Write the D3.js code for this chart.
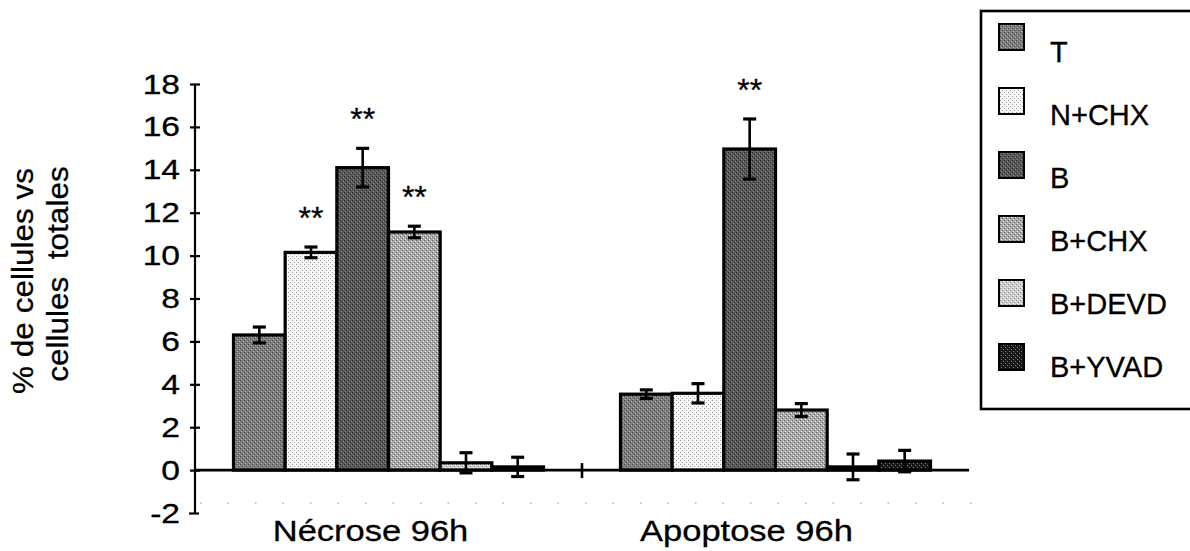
<!DOCTYPE html>
<html>
<head>
<meta charset="utf-8">
<script src="https://cdn.jsdelivr.net/npm/d3@7"></script>
<style>
  html, body { margin: 0; padding: 0; background: #fff; }
  svg { display: block; font-family: "Liberation Sans", Arial, sans-serif; }
  svg text { stroke: #000; stroke-width: 0.3px; }
</style>
</head>
<body>
<svg id="chart" width="1190" height="551"></svg>
<script>
// ---- data ----
const categories = ["Nécrose 96h", "Apoptose 96h"];
const seriesNames = ["T", "N+CHX", "B", "B+CHX", "B+DEVD", "B+YVAD"];
const necroseValues = [6.3, 10.15, 14.1, 11.1, 0.34, 0.15];
const necroseErrors = [0.37, 0.25, 0.9, 0.27, 0.47, 0.45];
const apoptoseValues = [3.54, 3.58, 14.97, 2.8, 0.15, 0.42];
const apoptoseErrors = [0.2, 0.45, 1.4, 0.3, 0.6, 0.5];
const necroseSignif = ["", "**", "**", "**", "", ""];
const apoptoseSignif = ["", "", "**", "", "", ""];
const yTicks = [-2, 0, 2, 4, 6, 8, 10, 12, 14, 16, 18];
const yTitleLines = ["% de cellules vs", "cellules  totales"];

const valuesByCat = [necroseValues, apoptoseValues];
const errorsByCat = [necroseErrors, apoptoseErrors];
const signifByCat = [necroseSignif, apoptoseSignif];

const rows = [];
categories.forEach((c, ci) => {
  seriesNames.forEach((s, si) => {
    rows.push({ cat: c, series: s, si, value: valuesByCat[ci][si], err: errorsByCat[ci][si], sig: signifByCat[ci][si] });
  });
});

// ---- styles (textures) ----
const textures = [
  { base: "#7c7c7c", a: "#4a4a4a", b: "#b0b0b0" },   // T
  { base: "#f8f8f8", a: "#9a9a9a", b: "#ffffff" },   // N+CHX
  { base: "#585858", a: "#2a2a2a", b: "#8a8a8a" },   // B
  { base: "#a8a8a8", a: "#666666", b: "#ececec" },   // B+CHX
  { base: "#d0d0d0", a: "#888888", b: "#ffffff" },   // B+DEVD
  { base: "#1c1c1c", a: "#000000", b: "#777777" }    // B+YVAD
];

const svg = d3.select("#chart");
const defs = svg.append("defs");
textures.forEach((t, i) => {
  const p = defs.append("pattern").attr("id", "tex" + i)
    .attr("patternUnits", "userSpaceOnUse").attr("width", 4).attr("height", 4);
  p.append("rect").attr("width", 4).attr("height", 4).attr("fill", t.base);
  [[0, 0], [2, 2]].forEach(([x, y]) => p.append("rect").attr("x", x).attr("y", y).attr("width", 1).attr("height", 1).attr("fill", t.a));
  [[1, 3], [3, 1]].forEach(([x, y]) => p.append("rect").attr("x", x).attr("y", y).attr("width", 1).attr("height", 1).attr("fill", t.b));
});

// ---- scales ----
const x0 = d3.scaleBand().domain(categories).range([195, 969]).paddingInner(0).paddingOuter(0);
const x1 = d3.scaleBand().domain(seriesNames).range([0, x0.bandwidth()]).paddingInner(0).paddingOuter(0.745);
const y = d3.scaleLinear().domain([-2, 18]).range([513, 84]);

// faint scan dotted line
svg.append("line").attr("x1", 200).attr("x2", 985).attr("y1", y(-1.55)).attr("y2", y(-1.55))
  .attr("stroke", "#b8b8b8").attr("stroke-width", 1.5).attr("stroke-dasharray", "1.5,26");

// ---- bars ----
const barG = svg.append("g");
barG.selectAll("rect").data(rows).join("rect")
  .attr("x", d => x0(d.cat) + x1(d.series))
  .attr("width", x1.bandwidth())
  .attr("y", d => y(Math.max(0, d.value)))
  .attr("height", d => Math.abs(y(d.value) - y(0)))
  .attr("fill", d => "url(#tex" + d.si + ")")
  .attr("stroke", "#000").attr("stroke-width", 3.2);

// ---- error bars ----
const errG = svg.append("g").attr("stroke", "#000").attr("stroke-width", 2.6);
rows.forEach(d => {
  const cx = x0(d.cat) + x1(d.series) + x1.bandwidth() / 2;
  errG.append("line").attr("x1", cx).attr("x2", cx).attr("y1", y(d.value + d.err)).attr("y2", y(d.value - d.err));
  errG.append("line").attr("x1", cx - 6.5).attr("x2", cx + 6.5).attr("y1", y(d.value + d.err)).attr("y2", y(d.value + d.err)).attr("stroke-width", 3.2);
  errG.append("line").attr("x1", cx - 6.5).attr("x2", cx + 6.5).attr("y1", y(d.value - d.err)).attr("y2", y(d.value - d.err)).attr("stroke-width", 3.2);
});

// ---- significance stars ----
svg.append("g").selectAll("text").data(rows.filter(d => d.sig)).join("text")
  .attr("x", d => x0(d.cat) + x1(d.series) + x1.bandwidth() / 2)
  .attr("y", d => y(d.value + d.err) - 18)
  .attr("text-anchor", "middle")
  .attr("font-size", 32)
  .attr("fill", "#000")
  .text(d => d.sig);

// ---- y axis ----
const yAxis = svg.append("g").attr("transform", "translate(195,0)")
  .call(d3.axisLeft(y).tickValues(yTicks).tickSize(5).tickFormat(d => String(d)));
yAxis.select(".domain").attr("stroke", "#000").attr("stroke-width", 2.2).attr("d", `M0,${y(-2)}V${y(18)}`);
yAxis.selectAll(".tick line").attr("x1", -5).attr("x2", 5).attr("stroke", "#000").attr("stroke-width", 2.2);
yAxis.selectAll(".tick text")
  .attr("x", 0).attr("dy", null)
  .attr("transform", "translate(-15,9) scale(1.2,1)")
  .attr("font-size", 28).attr("fill", "#000")
  .attr("font-family", "'Liberation Sans', Arial, sans-serif");
yAxis.selectAll(".tick").filter(d => d === -2).select("line").attr("x1", -6).attr("x2", 4);

// ---- x axis (at zero) ----
const xAxis = svg.append("g").attr("transform", `translate(0,${y(0)})`)
  .call(d3.axisBottom(x0).tickValues([]).tickSizeOuter(0));
xAxis.select(".domain").attr("stroke", "#000").attr("stroke-width", 2.6).attr("d", `M195,0H969`);
xAxis.append("line").attr("x1", x0("Apoptose 96h")).attr("x2", x0("Apoptose 96h")).attr("y1", -7).attr("y2", 8)
  .attr("stroke", "#000").attr("stroke-width", 2.6);

// category labels
svg.append("g").selectAll("text").data(categories).join("text")
  .attr("transform", (d, i) => `translate(${x0(d) + x0.bandwidth() / 2 - (i === 0 ? 18 : 29)},541) scale(1.15,1)`)
  .attr("text-anchor", "middle").attr("font-size", 30).attr("fill", "#000")
  .text(d => d);

// y axis title
const titleCenters = [281, 274];
const titleBaselines = [33, 68];
svg.append("g").selectAll("text").data(yTitleLines).join("text")
  .attr("transform", (d, i) => `translate(${titleBaselines[i]},${titleCenters[i]}) rotate(-90) scale(1.05,1)`)
  .attr("text-anchor", "middle").attr("font-size", 30).attr("fill", "#000")
  .attr("xml:space", "preserve").style("white-space", "pre")
  .text(d => d);

// ---- legend ----
const legend = svg.append("g");
legend.append("rect").attr("x", 981).attr("y", 11).attr("width", 240).attr("height", 398)
  .attr("fill", "none").attr("stroke", "#000").attr("stroke-width", 2.6);
const items = legend.selectAll("g.item").data(seriesNames).join("g").attr("class", "item");
items.append("rect")
  .attr("x", 999).attr("y", (d, i) => 24 + i * 64)
  .attr("width", 25).attr("height", 26)
  .attr("fill", (d, i) => "url(#tex" + i + ")")
  .attr("stroke", "#000").attr("stroke-width", 2);
items.append("text")
  .attr("x", 1050).attr("y", (d, i) => 62 + i * 63)
  .attr("font-size", 29).attr("fill", "#000")
  .text(d => d);
</script>
</body>
</html>
